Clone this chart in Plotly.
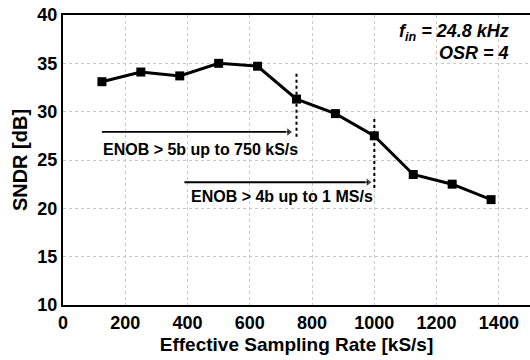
import plotly.graph_objects as go

rate_ks = [125, 250, 375, 500, 625, 750, 875, 1000, 1125, 1250, 1375]
sndr_db = [33.1, 34.1, 33.7, 35.0, 34.7, 31.3, 29.8, 27.5, 23.5, 22.5, 20.9]

x_ticks = [0, 200, 400, 600, 800, 1000, 1200, 1400]
y_ticks = [10, 15, 20, 25, 30, 35, 40]

# ENOB limits: rate where the limit holds, dashed marker span, arrow span and level
enob_limit_rate = [750, 1000]
enob_marker_span = [(27.4, 34.0), (22.1, 29.3)]
enob_arrow_x = [(125, 725), (390, 980)]
enob_arrow_y = [27.9, 22.7]
enob_labels = ["ENOB > 5b up to 750 kS/s", "ENOB > 4b up to 1 MS/s"]
enob_label_pos = [(122, 26.1), (404, 21.2)]

FONT = "Liberation Sans"

fig = go.Figure()
fig.add_trace(go.Scatter(
    x=rate_ks, y=sndr_db, mode="lines+markers",
    line=dict(color="black", width=3),
    marker=dict(symbol="square", size=9, color="black"),
    showlegend=False, hoverinfo="skip",
))

for xv, (y0, y1) in zip(enob_limit_rate, enob_marker_span):
    fig.add_shape(type="line", x0=xv, x1=xv, y0=y0, y1=y1, xref="x", yref="y",
                  line=dict(color="black", width=2, dash="dot"))

for (x0, x1), yv in zip(enob_arrow_x, enob_arrow_y):
    fig.add_trace(go.Scatter(
        x=[x0, x1], y=[yv, yv], mode="lines+markers",
        line=dict(color="black", width=1.8),
        marker=dict(symbol="triangle-right", size=[0, 8], color="black"),
        showlegend=False, hoverinfo="skip",
    ))

for text, (xv, yv) in zip(enob_labels, enob_label_pos):
    fig.add_annotation(x=xv, y=yv, xref="x", yref="y", xanchor="left", yanchor="middle",
                       text=f"<b>{text}</b>", showarrow=False,
                       font=dict(family=FONT, size=16, color="black"))

fig.add_annotation(x=1440, y=38.2, xref="x", yref="y", xanchor="right", yanchor="middle",
                   text="<b><i>f<sub>in</sub> = 24.8 kHz</i></b>", showarrow=False,
                   font=dict(family=FONT, size=18, color="black"))
fig.add_annotation(x=1440, y=36.1, xref="x", yref="y", xanchor="right", yanchor="middle",
                   text="<b><i>OSR = 4</i></b>", showarrow=False,
                   font=dict(family=FONT, size=18, color="black"))

axis_common = dict(
    showline=True, linecolor="black", linewidth=2,
    showgrid=True, gridcolor="#c8c8c8", griddash="dot", gridwidth=1,
    zeroline=False, ticks="",
    tickfont=dict(family=FONT, size=18, color="black"),
)

fig.update_xaxes(range=[0, 1500], tickvals=x_ticks, mirror=True,
                 ticktext=[f"<b>{v}</b>" for v in x_ticks],
                 title=dict(text="<b>Effective Sampling Rate [kS/s]</b>",
                            font=dict(family=FONT, size=19, color="black"), standoff=6),
                 **axis_common)
fig.update_yaxes(range=[10, 40], tickvals=y_ticks, mirror=False,
                 ticktext=[f"<b>{v}</b>" for v in y_ticks],
                 title=dict(text="<b>SNDR [dB]</b>",
                            font=dict(family=FONT, size=20, color="black"), standoff=4),
                 **axis_common)

fig.update_layout(
    width=530, height=360,
    margin=dict(l=63, r=0, t=15, b=55),
    plot_bgcolor="white", paper_bgcolor="white",
)

fig.write_html("out.html")
